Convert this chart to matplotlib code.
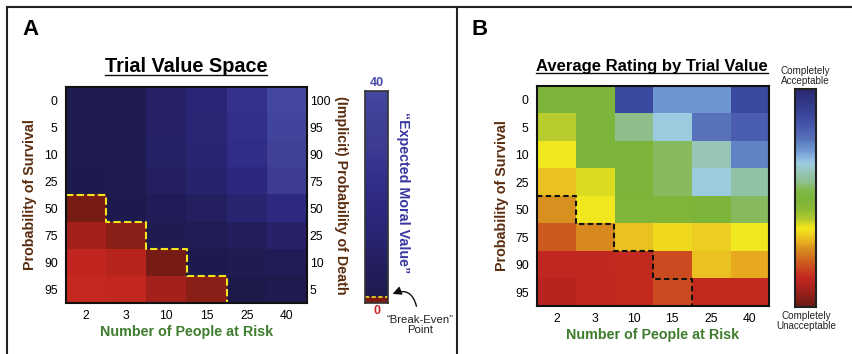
import numpy as np
import matplotlib.pyplot as plt
from matplotlib.colors import LinearSegmentedColormap, Normalize
from matplotlib.lines import Line2D

plt.rcParams['font.family'] = ['Liberation Sans', 'DejaVu Sans']

people = [2, 3, 10, 15, 25, 40]
survival = [0, 5, 10, 25, 50, 75, 90, 95]
death = [100, 95, 90, 75, 50, 25, 10, 5]

# "expected moral value" of each trial (rows = survival, cols = people)
moral_value = np.array([
    [1.0, 2.0, 9.0, 14.0, 24.0, 39.0],
    [0.9, 1.85, 8.5, 13.25, 22.75, 37.0],
    [0.8, 1.7, 8.0, 12.5, 21.5, 35.0],
    [0.5, 1.25, 6.5, 10.25, 17.75, 29.0],
    [0.0, 0.5, 4.0, 6.5, 11.5, 19.0],
    [-0.5, -0.25, 1.5, 2.75, 5.25, 9.0],
    [-0.8, -0.7, 0.0, 0.5, 1.5, 3.0],
    [-0.9, -0.85, -0.5, -0.25, 0.25, 1.0],
])

# average acceptability rating (1 = completely unacceptable, 7 = completely acceptable)
rating = np.array([
    [4.0, 4.0, 6.22, 5.32, 5.32, 6.22],
    [3.4, 4.0, 4.42, 4.96, 5.62, 5.92],
    [3.16, 4.0, 4.0, 4.3, 4.72, 5.5],
    [2.92, 3.28, 4.0, 4.3, 4.96, 4.6],
    [2.62, 3.16, 3.88, 3.88, 4.0, 4.3],
    [2.2, 2.56, 2.92, 3.04, 2.98, 3.16],
    [1.78, 1.81, 1.84, 2.08, 2.92, 2.74],
    [1.66, 1.78, 1.84, 2.08, 1.84, 1.84],
])

blue_cmap = LinearSegmentedColormap.from_list('mv_blue', [
    (0.0, '#1d1a4b'), (0.025, '#1f1c50'), (0.1, '#211d58'), (0.16, '#24205f'),
    (0.225, '#27226a'), (0.3, '#2a2572'), (0.35, '#2b2678'), (0.475, '#2e2a82'),
    (0.6, '#33318c'), (0.725, '#3b3c92'), (0.875, '#3f4197'), (0.975, '#44479f'),
    (1.0, '#4649a2')])
red_cmap = LinearSegmentedColormap.from_list('mv_red', [
    (0.0, '#c92a21'), (0.1, '#c42820'), (0.2, '#c0261f'), (0.5, '#a5221c'),
    (0.75, '#8a2018'), (1.0, '#761c14')])
rate_cmap = LinearSegmentedColormap.from_list('rating', [
    (0.00, '#6a1a14'), (0.11, '#b82520'), (0.13, '#c02820'), (0.14, '#c42c20'),
    (0.18, '#cc4a20'), (0.20, '#cc5a20'), (0.26, '#d88a20'), (0.27, '#d8901e'),
    (0.29, '#e8a820'), (0.32, '#eac420'), (0.34, '#f0d820'), (0.36, '#f2e81e'),
    (0.38, '#dcdc20'), (0.40, '#b8cc2e'), (0.44, '#90bc34'), (0.48, '#80b53a'),
    (0.50, '#7cb53a'), (0.53, '#80b848'), (0.55, '#88bb5e'), (0.57, '#8fc08e'),
    (0.60, '#90c3a6'), (0.62, '#98c6b8'), (0.66, '#9ccce0'), (0.70, '#80aadc'),
    (0.72, '#6e96d0'), (0.75, '#6186c6'), (0.77, '#5873bb'), (0.82, '#4a5db0'),
    (0.87, '#3c4aa0'), (1.00, '#282870')])

BROWN = '#5a2c10'
GREEN = '#3e7d2e'
PURPLE = '#3a37a0'
LABEL_FS = 10.3

W, H = 852, 354
fig = plt.figure(figsize=(W / 100, H / 100), dpi=100)


def rect(x0, y0, x1, y1):
    return [x0 / W, 1 - y1 / H, (x1 - x0) / W, (y1 - y0) / H]


def fxy(x, y):
    return x / W, 1 - y / H


# outer frame + divider
for xs, ys in [([7, W], [7, 7]), ([7, 7], [7, H]), ([457, 457], [7, H])]:
    fig.add_artist(Line2D([x / W for x in xs], [1 - y / H for y in ys],
                          transform=fig.transFigure, color='#222222', lw=1.5))

# break-even staircase from the moral values
below = moral_value <= 0
edge = [int(np.argmax(below[:, j])) if below[:, j].any() else len(survival)
        for j in range(len(people))]
step_x, step_y = [-0.5], [edge[0] - 0.5]
for j in range(len(people)):
    if edge[j] >= len(survival):
        break
    step_x += [j + 0.5, j + 0.5]
    step_y += [edge[j] - 0.5, edge[j + 1] - 0.5]

ext = (-0.5, len(people) - 0.5, len(survival) - 0.5, -0.5)


def style_heat(ax):
    ax.set_xticks(range(len(people)), people)
    ax.set_yticks(range(len(survival)), survival)
    ax.tick_params(length=0, labelsize=8.7)
    ax.tick_params(axis='y', pad=6)
    ax.tick_params(axis='x', pad=5)
    for s in ax.spines.values():
        s.set_linewidth(1.5)
        s.set_color('#111111')


# ---------------- panel A ----------------
axA = fig.add_axes(rect(66, 87, 307, 303))
axA.imshow(np.ma.masked_where(below, moral_value), cmap=blue_cmap,
           norm=Normalize(0, 40), aspect='auto', extent=ext, interpolation='nearest')
axA.imshow(np.ma.masked_where(~below, moral_value), cmap=red_cmap,
           norm=Normalize(-1, 0), aspect='auto', extent=ext, interpolation='nearest')
axA.plot(step_x, step_y, color='#f5e51c', lw=1.5, ls=(0, (3.5, 1.6)), clip_on=False)
style_heat(axA)
axA.set_xlabel('Number of People at Risk', color=GREEN, fontsize=LABEL_FS,
               fontweight='bold', labelpad=2)
axA.set_ylabel('Probability of Survival', color=BROWN, fontsize=LABEL_FS,
               fontweight='bold', labelpad=5)
axR = axA.twinx()
axR.set_ylim(axA.get_ylim())
axR.set_yticks(range(len(death)), death)
axR.tick_params(length=0, labelsize=8.7, pad=2)
for s in axR.spines.values():
    s.set_visible(False)
axR.set_ylabel('(Implicit) Probability of Death', color=BROWN, fontsize=LABEL_FS,
               fontweight='bold', rotation=270, labelpad=13)

caxA = fig.add_axes(rect(365, 91, 388, 303))
caxA.imshow(np.linspace(0, 40, 256)[:, None], cmap=blue_cmap, norm=Normalize(0, 40),
            aspect='auto', extent=(0, 1, 0, 40), origin='lower')
caxA.axhspan(-1.2, 0, color='#7a1c14')
caxA.axhline(0, color='#f5e51c', lw=1.2, ls=(0, (2.5, 1.5)))
caxA.set_ylim(-1.2, 40)
caxA.set_xlim(0, 1)
caxA.set_xticks([])
caxA.set_yticks([])
for s in caxA.spines.values():
    s.set_linewidth(1.2)
    s.set_color('#333333')
fig.text(*fxy(376.5, 83), '40', color='#4a4aa8', fontsize=9, fontweight='bold',
         ha='center', va='center')
fig.text(*fxy(376.5, 311), '0', color='#c8282a', fontsize=9, fontweight='bold',
         ha='center', va='center')
fig.text(*fxy(403, 193), '\u201cExpected Moral Value\u201d', color=PURPLE, fontsize=LABEL_FS,
         fontweight='bold', rotation=270, ha='center', va='center')
fig.text(*fxy(420, 325), '\u201cBreak-Even\u201d\nPoint', fontsize=8.2, ha='center',
         va='center', linespacing=1.1, color='#222222')
axA.annotate('', xy=fxy(390, 295), xycoords='figure fraction',
             xytext=fxy(417, 309), textcoords='figure fraction',
             arrowprops=dict(arrowstyle='-|>,head_length=0.5,head_width=0.25',
                             color='#111111', lw=1.0,
                             connectionstyle='arc3,rad=0.65'))

fig.text(*fxy(22, 35), 'A', fontsize=16, fontweight='bold', va='baseline')
tA = fig.text(*fxy(186, 72), 'Trial Value Space', fontsize=14.3, fontweight='bold',
              ha='center', va='baseline')

# ---------------- panel B ----------------
axB = fig.add_axes(rect(537, 86, 769, 306))
imB = axB.imshow(rating, cmap=rate_cmap, norm=Normalize(1, 7), aspect='auto',
                 extent=ext, interpolation='nearest')
axB.plot(step_x, step_y, color='#111111', lw=1.5, ls=(0, (2.6, 1.6)), clip_on=False)
style_heat(axB)
axB.set_xlabel('Number of People at Risk', color=GREEN, fontsize=LABEL_FS,
               fontweight='bold', labelpad=2)
axB.set_ylabel('Probability of Survival', color=BROWN, fontsize=LABEL_FS,
               fontweight='bold', labelpad=4)

caxB = fig.add_axes(rect(795, 89, 816, 307))
caxB.imshow(np.linspace(1, 7, 256)[:, None], cmap=rate_cmap, norm=Normalize(1, 7),
            aspect='auto', extent=(0, 1, 1, 7), origin='lower')
caxB.set_xticks([])
caxB.set_yticks([])
for s in caxB.spines.values():
    s.set_linewidth(1.5)
    s.set_color('#222222')
fig.text(*fxy(805, 76), 'Completely\nAcceptable', fontsize=7.1, ha='center',
         va='center', linespacing=1.0, color='#222222')
fig.text(*fxy(806, 321), 'Completely\nUnacceptable', fontsize=7.1, ha='center',
         va='center', linespacing=1.0, color='#222222')

fig.text(*fxy(471, 35), 'B', fontsize=16, fontweight='bold', va='baseline')
tB = fig.text(*fxy(652, 70.5), 'Average Rating by Trial Value', fontsize=12,
              fontweight='bold', ha='center', va='baseline')

# underline the two titles
fig.canvas.draw()
r = fig.canvas.get_renderer()
for t, yb in [(tA, 74.5), (tB, 73.0)]:
    bb = t.get_window_extent(r)
    fig.add_artist(Line2D([bb.x0 / W, bb.x1 / W], [1 - yb / H, 1 - yb / H],
                          transform=fig.transFigure, color='#111111', lw=1.0))

fig.savefig('out.png', dpi=100)
